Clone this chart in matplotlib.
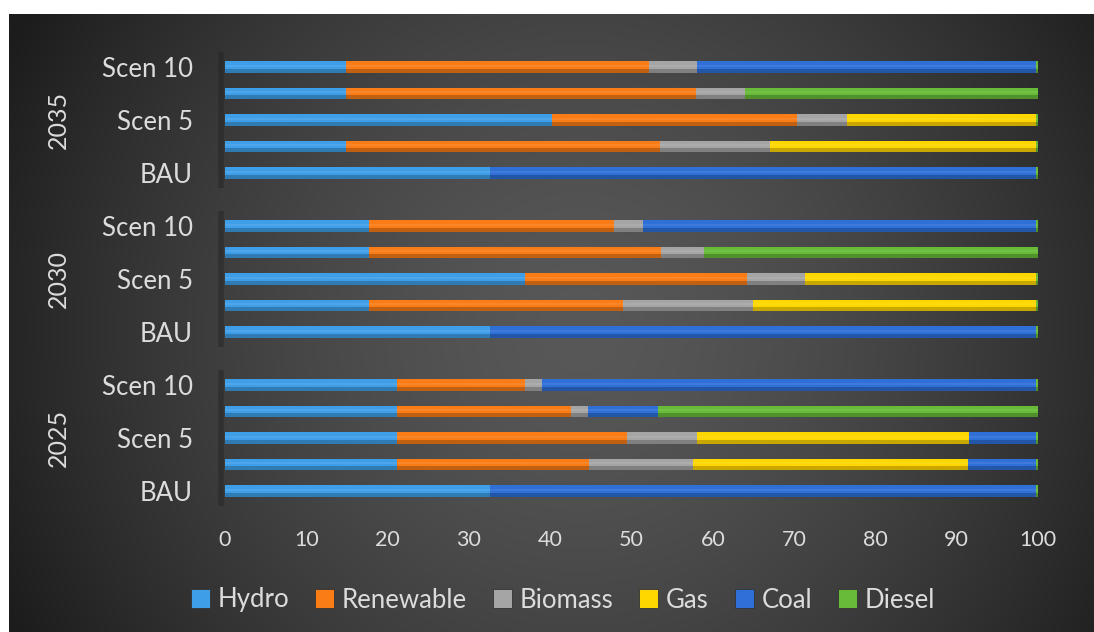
import numpy as np
import matplotlib
matplotlib.use("Agg")
import matplotlib.pyplot as plt
from matplotlib.patches import Patch
from matplotlib.transforms import blended_transform_factory

plt.rcParams['font.family'] = ['Lato', 'DejaVu Sans']

# ---------------- data ----------------
years = ['2025', '2030', '2035']
scenarios = ['BAU', '', 'Scen 5', '', 'Scen 10']
series = ['Hydro', 'Renewable', 'Biomass', 'Gas', 'Coal', 'Diesel']
colors = ['#3f9ee8', '#f97c17', '#a5a5a5', '#ffd700', '#2f6fd8', '#68bb38']

# rows per year in order: BAU, (row 2), Scen 5, (row 4), Scen 10
hydro_2025     = [32.6, 21.1, 21.1, 21.1, 21.1]
renewable_2025 = [0.0, 23.7, 28.4, 21.5, 15.8]
biomass_2025   = [0.0, 12.8, 8.5, 2.1, 2.1]
gas_2025       = [0.0, 33.8, 33.5, 0.0, 0.0]
coal_2025      = [67.1, 8.3, 8.2, 8.5, 60.7]
diesel_2025    = [0.3, 0.3, 0.3, 46.8, 0.3]

hydro_2030     = [32.6, 17.7, 36.9, 17.7, 17.7]
renewable_2030 = [0.0, 31.3, 27.3, 35.9, 30.1]
biomass_2030   = [0.0, 16.0, 7.2, 5.3, 3.6]
gas_2030       = [0.0, 34.7, 28.3, 0.0, 0.0]
coal_2030      = [67.1, 0.0, 0.0, 0.0, 48.3]
diesel_2030    = [0.3, 0.3, 0.3, 41.1, 0.3]

hydro_2035     = [32.6, 14.9, 40.2, 14.9, 14.9]
renewable_2035 = [0.0, 38.6, 30.2, 43.0, 37.3]
biomass_2035   = [0.0, 13.5, 6.1, 6.1, 5.9]
gas_2035       = [0.0, 32.7, 23.2, 0.0, 0.0]
coal_2035      = [67.1, 0.0, 0.0, 0.0, 41.6]
diesel_2035    = [0.3, 0.3, 0.3, 36.0, 0.3]

x_ticks = [0, 10, 20, 30, 40, 50, 60, 70, 80, 90, 100]

data = {
    '2025': [hydro_2025, renewable_2025, biomass_2025, gas_2025, coal_2025, diesel_2025],
    '2030': [hydro_2030, renewable_2030, biomass_2030, gas_2030, coal_2030, diesel_2030],
    '2035': [hydro_2035, renewable_2035, biomass_2035, gas_2035, coal_2035, diesel_2035],
}

# ---------------- figure ----------------
W, H = 1094, 632
fig = plt.figure(figsize=(W / 100, H / 100), dpi=100)
fig.patch.set_facecolor('white')

# radial gradient background panel
bg = fig.add_axes([9 / W, 0, 1 - 9 / W, 1 - 14 / H])
bg.set_axis_off()
nx, ny = 540, 310
xx, yy = np.meshgrid(np.linspace(9, W, nx), np.linspace(14, H, ny))
r = np.sqrt((xx - 580) ** 2 + (yy - 330) ** 2)
t = np.clip(r / 640.0, 0, 1) ** 1.5
c_center = np.array([0x58, 0x58, 0x58]) / 255
c_edge = np.array([0x1c, 0x1c, 0x1c]) / 255
img = c_center[None, None, :] * (1 - t[..., None]) + c_edge[None, None, :] * t[..., None]
bg.imshow(img, aspect='auto', extent=[0, 1, 0, 1], origin='upper')
bg.set_xlim(0, 1)
bg.set_ylim(0, 1)

# main axes
row_px0, row_px16 = 491, 67
step = (row_px0 - row_px16) / 16
lo, hi = -0.7, 16.7
bottom_px = row_px0 - lo * step
top_px = row_px16 - (hi - 16) * step
ax = fig.add_axes([225 / W, 1 - bottom_px / H, (1038 - 225) / W, (bottom_px - top_px) / H])
ax.set_facecolor('none')
ax.patch.set_alpha(0)

bar_h = 0.42
ypos_all, ylabels = [], []
txt_color = '#dcdcdc'
for gi, yr in enumerate(years):
    base = gi * 6
    ys = np.arange(len(scenarios)) + base
    ypos_all.extend(ys)
    ylabels.extend(scenarios)
    # 3D axis wall shadow
    ax.plot([-0.45, -0.45], [base - 0.55, base + 4.55], color='#222222', lw=4,
            alpha=0.45, solid_capstyle='butt', zorder=1, clip_on=False)
    left = np.zeros(len(scenarios))
    for si, (name, col) in enumerate(zip(series, colors)):
        vals = np.array(data[yr][si])
        ax.barh(ys, vals, left=left, height=bar_h, color=col,
                edgecolor='none', zorder=3)
        left = left + vals
    # cylinder shading: dark lower band and light upper band
    ax.barh(ys - bar_h * 0.32, left, height=bar_h * 0.36, color='black',
            alpha=0.22, edgecolor='none', zorder=4)
    ax.barh(ys + bar_h * 0.12, left, height=bar_h * 0.18, color='white',
            alpha=0.08, edgecolor='none', zorder=4)
    # year label
    ax.text(58 / W, base + 2, yr,
            transform=blended_transform_factory(fig.transFigure, ax.transData),
            rotation=90, ha='center', va='center', color=txt_color, fontsize=18)

ax.set_xlim(0, 100)
ax.set_ylim(lo, hi)
ax.set_yticks(ypos_all)
ax.set_yticklabels(ylabels)
ax.set_xticks(x_ticks)
ax.set_xticklabels([str(v) for v in x_ticks])
ax.tick_params(axis='y', length=0, pad=23, labelsize=18.5, labelcolor=txt_color)
ax.tick_params(axis='x', length=0, pad=15, labelsize=15.5, labelcolor=txt_color)
for s in ax.spines.values():
    s.set_visible(False)

handles = [Patch(facecolor=c, edgecolor='#333333', linewidth=0.6) for c in colors]
leg = fig.legend(handles, series, loc='center', bbox_to_anchor=(563 / W, 1 - 600 / H),
                 ncol=6, frameon=False, fontsize=18.5, handlelength=0.75, handleheight=0.8,
                 handletextpad=0.3, columnspacing=1.0, labelcolor=txt_color)

fig.savefig('out.png', dpi=100, facecolor=fig.get_facecolor())
